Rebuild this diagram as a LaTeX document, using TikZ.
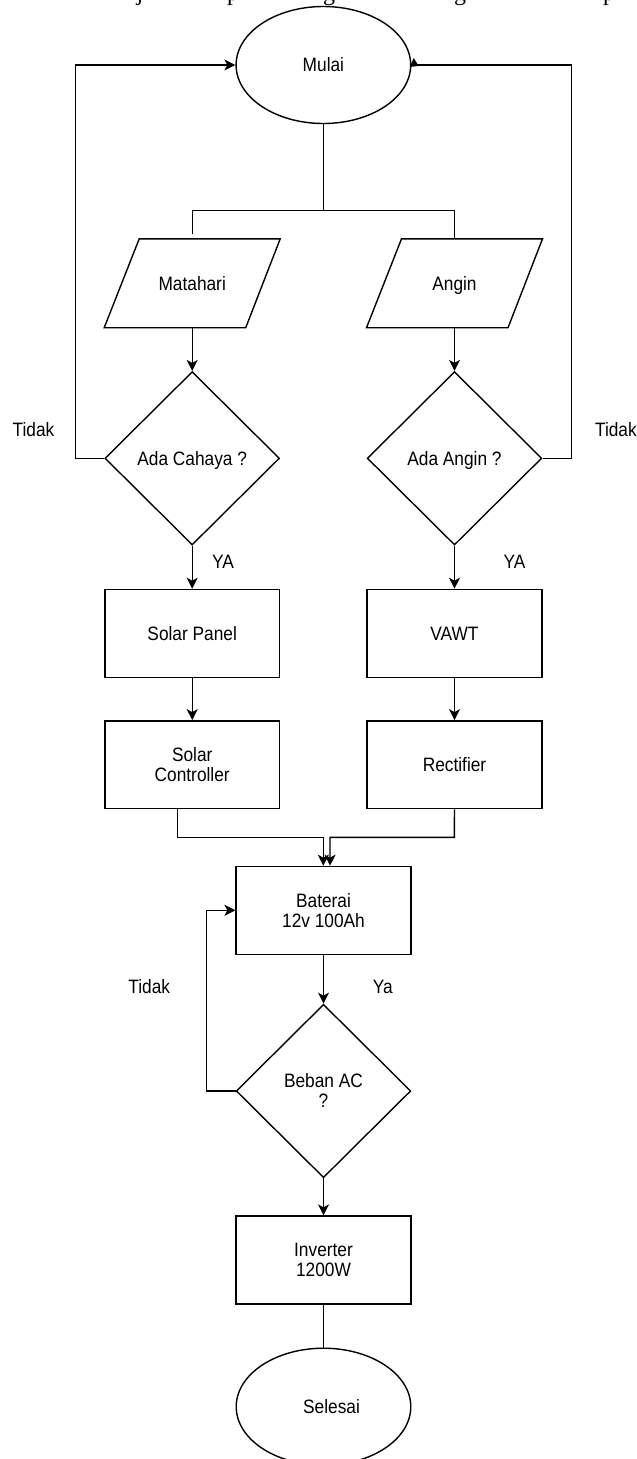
\documentclass[tikz,border=0pt]{standalone}
\usepackage{fontspec}
\usepackage{graphicx}
\setmainfont{Liberation Sans}
\newfontfamily\docserif{Liberation Serif}
\usetikzlibrary{shapes.geometric,arrows.meta}
\newcommand{\stx}[1]{\raisebox{-2.8pt}[\height][\depth]{\scalebox{1}[1.12]{\begin{tabular}{@{}c@{}}#1\end{tabular}}}}
\begin{document}
\begin{tikzpicture}[x=1pt,y=-1pt,
  line width=1.4pt,
  every node/.style={font=\fontsize{17.3}{17.8}\selectfont, inner sep=0pt},
  term/.style={draw, ellipse, minimum width=174.6pt, minimum height=117pt},
  proc/.style={draw, rectangle, minimum width=174.8pt, minimum height=87.8pt, align=center},
  dec/.style={draw, diamond, minimum width=174.6pt, minimum height=173.4pt, align=center},
  io/.style={rectangle, minimum width=174.6pt, minimum height=87.5pt},
  arr/.style={-{Stealth[length=11pt,width=11pt,inset=3pt]}},
  frag/.style={font=\docserif\fontsize{24}{24}\selectfont, anchor=base}
]
\useasboundingbox (0,0) rectangle (637,1459);

% cut-off text line at the top
\node[frag] (f1) at (140,0) {j};
\node[frag] (f2) at (233,0) {p};
\node[frag] (f3) at (329,0) {g};
\node[frag] (f4) at (460,0) {g};
\node[frag] (f5) at (609,0) {p};

% nodes
\node[term] (start) at (323.4,65) {\stx{Mulai}};
\node[io] (mat) at (192.2,283.3) {\stx{Matahari}};
\node[io] (ang) at (454.5,283.3) {\stx{Angin}};
\draw (mat.south west) -- ([xshift=-34.5pt]mat.south east) -- (mat.north east) -- ([xshift=35pt]mat.north west) -- cycle;
\draw (ang.south west) -- ([xshift=-34.5pt]ang.south east) -- (ang.north east) -- ([xshift=35pt]ang.north west) -- cycle;
\node[dec] (cah) at (192.2,458.3) {\stx{Ada Cahaya ?}};
\node[dec] (ada) at (454.5,458.3) {\stx{Ada Angin ?}};
\node[proc] (sp) at (192.2,633.3) {\stx{Solar Panel}};
\node[proc] (vawt) at (454.5,633.3) {\stx{VAWT}};
\node[proc] (sc) at (192.2,764.7) {\stx{Solar\\Controller}};
\node[proc] (rec) at (454.5,764.7) {\stx{Rectifier}};
\node[proc] (bat) at (323.5,910.3) {\stx{Baterai\\12v 100Ah}};
\node[dec] (beb) at (323.5,1091) {\stx{Beban AC\\?}};
\node[proc] (inv) at (323.5,1260) {\stx{Inverter\\1200W}};
\node[term] (stop) at (323.5,1406.7) {\hspace*{16pt}\stx{Selesai}};

% labels
\node (t1) at (33.5,430) {\stx{Tidak}};
\node[anchor=west] (t2) at (594.4,430) {\stx{Tidak}};
\node (y1) at (223,561.7) {\stx{YA}};
\node (y2) at (514.6,561.7) {\stx{YA}};
\node (y3) at (382.8,987) {\stx{Ya}};
\node (t3) at (149.2,987) {\stx{Tidak}};

% helper coordinates
\coordinate (split) at (323.4,210.7);
\coordinate (loopL) at (75.6,65);
\coordinate (loopR) at (571.6,65);
\coordinate (jl) at (177.7,837.3);
\coordinate (jr) at (454.3,837.3);
\coordinate (ba1) at (323.3,837.3);
\coordinate (ba2) at (330,837.3);
\coordinate (loopB) at (206.7,910.3);

% connectors
\draw (start.south) -- (split);
\draw (mat.north |- split) -- (ang.north |- split);
\draw (mat.north |- split) -- ([yshift=4.5pt]mat.north);
\draw (ang.north |- split) -- (ang.north);
\draw[arr] (mat.south) -- (cah.north);
\draw[arr] (ang.south) -- (ada.north);
\draw[arr] (cah.south) -- (sp.north);
\draw[arr] (ada.south) -- (vawt.north);
\draw[arr] (sp.south) -- (sc.north);
\draw[arr] (vawt.south) -- (rec.north);
\draw[arr] (cah.west) -| (loopL) -- (start.west);
\draw (ada.east) -| (loopR) -- (start.east);
\fill (start.east) ++(-1.7,2) -- ++(4,-9) -- ++(5,8) -- cycle;
\draw[arr] (sc.south -| jl) -- (jl) -- (ba1) -- (ba1 |- bat.north);
\draw[arr] (rec.south) -- (jr) -- (ba2) -- (ba2 |- bat.north);
\draw[arr] (bat.south) -- (beb.north);
\draw[arr] (beb.west) -| (loopB) -- (bat.west);
\draw[arr] (beb.south) -- (inv.north);
\draw (inv.south) -- (stop.north);
\end{tikzpicture}
\end{document}
